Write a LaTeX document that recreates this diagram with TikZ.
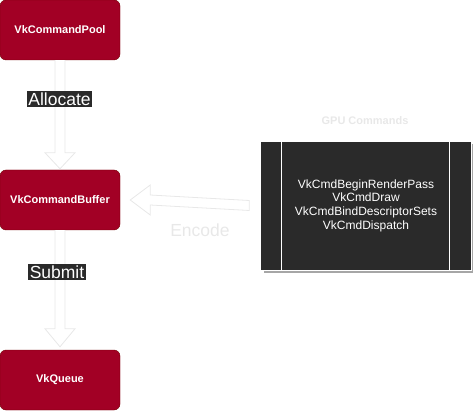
\documentclass[tikz,border=0pt]{standalone}
\usepackage{fontspec}
\setmainfont{Liberation Sans}
\usetikzlibrary{calc,shadows}

\definecolor{vkred}{HTML}{A20025}
\definecolor{vkedge}{HTML}{6F0000}
\definecolor{vkdark}{HTML}{2A2A2A}
\definecolor{vkpale}{HTML}{E8E8E8}

\tikzset{
    vkbox/.style={
        draw=vkedge,
        fill=vkred,
        rounded corners=6pt,
        minimum width=120pt,
        minimum height=60pt,
        text=white,
        font=\bfseries\fontsize{11}{13}\selectfont
    },
    vklabel/.style={
        fill=vkdark,
        text=white,
        inner sep=1.5pt,
        font=\fontsize{17.5}{19}\selectfont
    },
    hollow/.style={
        draw=vkpale,
        fill=white,
        line width=0.8pt,
        line join=miter
    }
}

\begin{document}
\begin{tikzpicture}[x=1pt,y=-1pt]
            \useasboundingbox (0,0) rectangle (473,411);

            \node[vkbox, name=pool] at (60,30) {VkCommandPool};
            \node[vkbox, name=buf] at (60,200) {VkCommandBuffer};
            \node[vkbox, name=queue] at (60,380) {VkQueue};

            % the command list on the right
            \node[
                draw=white,
                fill=vkdark,
                minimum width=211pt,
                minimum height=129pt,
                drop shadow={shadow xshift=3pt, shadow yshift=-3pt, fill=gray!70, opacity=1},
                text=white,
                align=center,
                font=\fontsize{12}{13.7}\selectfont,
                name=gpu
            ] at (366,205.5) {VkCmdBeginRenderPass\\VkCmdDraw\\VkCmdBindDescriptorSets\\VkCmdDispatch};
            \draw[white, line width=0.8pt] ($(gpu.north west)+(21,0)$) -- ($(gpu.south west)+(21,0)$);
            \draw[white, line width=0.8pt] ($(gpu.north east)+(-22,0)$) -- ($(gpu.south east)+(-22,0)$);
            \node[
                text=vkpale,
                font=\bfseries\fontsize{11}{13}\selectfont,
                name=gputitle
            ] at (365,121) {GPU Commands};

            % hollow arrows
            \draw[hollow] ($(pool.south)+(-5,0)$) -- ($(buf.north)+(-5,-17)$)
                -- ($(buf.north)+(-15,-17)$) -- ($(buf.north)+(0,-1)$)
                -- ($(buf.north)+(15,-17)$) -- ($(buf.north)+(5,-17)$)
                -- ($(pool.south)+(5,0)$);
            \draw[hollow] ($(buf.south)+(-5,0)$) -- ($(queue.north)+(-5,-21)$)
                -- ($(queue.north)+(-15,-21)$) -- ($(queue.north)+(0,-3)$)
                -- ($(queue.north)+(15,-21)$) -- ($(queue.north)+(5,-21)$)
                -- ($(buf.south)+(5,0)$);
            \draw[hollow] ($(gpu.west)+(-11,-5)$) -- ($(buf.east)+(30,-5)$)
                -- ($(buf.east)+(30,-15)$) -- ($(buf.east)+(10,0)$)
                -- ($(buf.east)+(30,15)$) -- ($(buf.east)+(30,5)$)
                -- ($(gpu.west)+(-11,5)$) -- cycle;

            \node[vklabel, name=alloc] at (59.5,99) {Allocate};
            \node[vklabel, name=submit] at (57,272) {Submit};
            \node[
                text=vkpale,
                font=\fontsize{17.5}{19}\selectfont,
                name=encode
            ] at (200,230) {Encode};
\end{tikzpicture}
\end{document}
